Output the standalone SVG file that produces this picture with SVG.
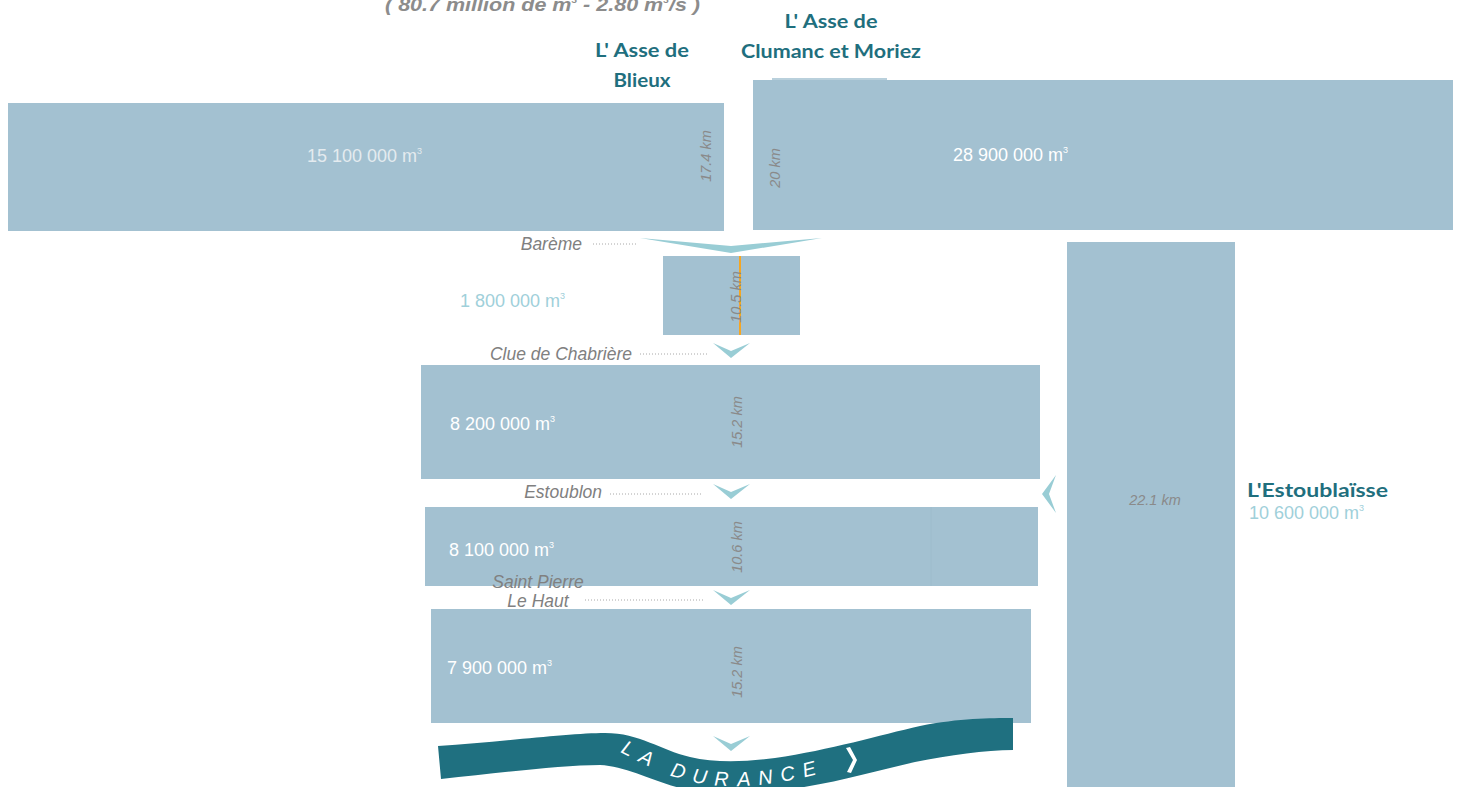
<svg xmlns="http://www.w3.org/2000/svg" width="1463" height="787" viewBox="0 0 1463 787">
<defs>
<style>
.basin{fill:#a3c1d1}
.vol{font-family:"Liberation Sans",Arial,sans-serif;font-size:18px;fill:#ffffff}
.volt{font-family:"Liberation Sans",Arial,sans-serif;font-size:18px;fill:#9fd0da}
.km{font-family:"Liberation Sans",Arial,sans-serif;font-size:14.5px;font-style:italic;fill:#8a8a8a}
.place{font-family:"Liberation Sans",Arial,sans-serif;font-size:17.5px;font-style:italic;fill:#808080}
.head{font-family:Lato,"Open Sans",sans-serif;font-size:19px;font-weight:bold;fill:#1f6f7e}
.chev{fill:#99cdd5}
.dot{stroke:#a8a8a8;stroke-width:1;stroke-dasharray:1 2;fill:none}
.sup{font-size:9px}
</style>
</defs>
<rect width="1463" height="787" fill="#ffffff"/>

<text x="385" y="11" font-family="'Liberation Sans',Arial,sans-serif" font-size="19" font-weight="bold" font-style="italic" fill="#8c8c8c" textLength="315" lengthAdjust="spacingAndGlyphs">( 80.7 million de m<tspan class="sup" dy="-8">3</tspan><tspan dy="8"> - 2.80 m</tspan><tspan class="sup" dy="-8">3</tspan><tspan dy="8">/s )</tspan></text>

<g id="asse-blieux">
<rect class="basin" x="8" y="103" width="716" height="128"/>
<text class="head" x="642" y="57" text-anchor="middle" textLength="94" lengthAdjust="spacingAndGlyphs">L' Asse de</text>
<text class="head" x="642" y="87" text-anchor="middle" textLength="57" lengthAdjust="spacingAndGlyphs">Blieux</text>
<text class="vol" x="307" y="162" style="fill:#e4ebef">15 100 000 m<tspan class="sup" dy="-8">3</tspan></text>
<text class="km" x="711" y="156" text-anchor="middle" transform="rotate(-90 711 156)">17.4 km</text>
</g>

<g id="asse-clumanc">
<rect class="basin" x="753" y="80" width="700" height="150"/>
<rect x="772" y="78" width="115" height="2" fill="#b9d0dc"/>
<text class="head" x="831" y="28" text-anchor="middle" textLength="93" lengthAdjust="spacingAndGlyphs">L' Asse de</text>
<text class="head" x="831" y="58" text-anchor="middle" textLength="180" lengthAdjust="spacingAndGlyphs">Clumanc et Moriez</text>
<text class="vol" x="953" y="161">28 900 000 m<tspan class="sup" dy="-8">3</tspan></text>
<text class="km" x="780" y="168" text-anchor="middle" transform="rotate(-90 780 168)">20 km</text>
</g>

<g id="bareme-section">
<rect class="basin" x="663" y="256" width="137" height="79"/>
<line x1="740" y1="256" x2="740" y2="335" stroke="#f5a623" stroke-width="2"/>
<text class="km" x="741" y="297" text-anchor="middle" transform="rotate(-90 741 297)">10.5 km</text>
<text class="volt" x="460" y="307">1 800 000 m<tspan class="sup" dy="-8">3</tspan></text>
</g>

<g id="chabriere-section">
<rect class="basin" x="421" y="365" width="619" height="114"/>
<text class="vol" x="450" y="430">8 200 000 m<tspan class="sup" dy="-8">3</tspan></text>
<text class="km" x="742" y="422" text-anchor="middle" transform="rotate(-90 742 422)">15.2 km</text>
</g>

<g id="estoublon-section">
<rect class="basin" x="425" y="507" width="613" height="79"/>
<line x1="931" y1="507" x2="931" y2="586" stroke="#9dbccc" stroke-width="1"/>
<text class="vol" x="449" y="556">8 100 000 m<tspan class="sup" dy="-8">3</tspan></text>
<text class="km" x="742" y="547" text-anchor="middle" transform="rotate(-90 742 547)">10.6 km</text>
</g>

<g id="stpierre-section">
<rect class="basin" x="431" y="609" width="600" height="114"/>
<text class="vol" x="447" y="674">7 900 000 m<tspan class="sup" dy="-8">3</tspan></text>
<text class="km" x="742" y="672" text-anchor="middle" transform="rotate(-90 742 672)">15.2 km</text>
</g>

<g id="estoublaisse">
<rect class="basin" x="1067" y="242" width="168" height="545"/>
<text class="km" x="1155" y="505" text-anchor="middle" font-size="13.5">22.1 km</text>
<text class="head" x="1247" y="497" textLength="141" lengthAdjust="spacingAndGlyphs">L'Estoublaïsse</text>
<text class="volt" x="1249" y="519">10 600 000 m<tspan class="sup" dy="-8">3</tspan></text>
</g>

<g id="durance">
<path fill="#1f7080" d="M438,746 C500,742 570,733 605,733 C640,733 660,750 690,757 C715,763 745,762 775,758 C830,750 880,735 920,726 C960,718 990,718 1013,718 L1013,750 C985,750 950,755 915,762 C870,772 830,785 775,791 C740,795 710,795 680,788 C650,780 625,766 600,765 C560,765 500,773 441,779 Z"/>
<path id="durance-text-path" fill="none" d="M620,752 C652,768 682,786 732,786 C772,786 807,778 848,765"/>
<text font-family="'Liberation Sans',Arial,sans-serif" font-size="20" font-style="italic" fill="#ffffff" letter-spacing="8.5"><textPath href="#durance-text-path">LA DURANCE</textPath></text>
<path fill="#ffffff" d="M846,748 L850,747 L857,760 L851,773 L847,772 L853,760 Z"/>
</g>

<g id="connectors">
<polygon class="chev" points="640,238 731,246 822,238 731,253"/>
<polygon class="chev" points="713,343 731,351 750,343 731,358"/>
<polygon class="chev" points="713,484 731,492 750,484 731,499"/>
<polygon class="chev" points="713,590 731,598 750,590 731,605"/>
<polygon class="chev" points="713,736 731,744 750,736 731,751"/>
<polygon class="chev" points="1056,475 1049,494 1056,513 1042,494"/>
<line class="dot" x1="593" y1="244" x2="637" y2="244"/>
<line class="dot" x1="640" y1="354" x2="708" y2="354"/>
<line class="dot" x1="610" y1="494" x2="703" y2="494"/>
<line class="dot" x1="585" y1="600" x2="703" y2="600"/>
<text class="place" x="582" y="250" text-anchor="end">Barème</text>
<text class="place" x="632" y="360" text-anchor="end">Clue de Chabrière</text>
<text class="place" x="602" y="498" text-anchor="end">Estoublon</text>
<text class="place" x="538" y="588" text-anchor="middle">Saint Pierre</text>
<text class="place" x="538" y="607" text-anchor="middle">Le Haut</text>
</g>
</svg>
